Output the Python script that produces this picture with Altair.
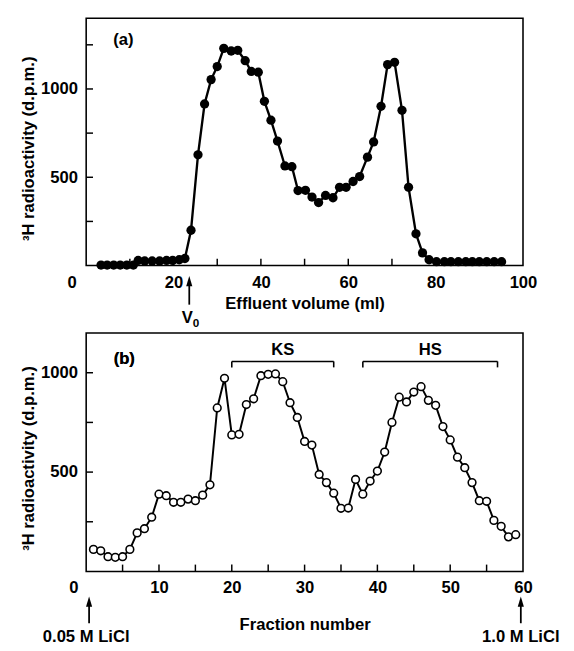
import altair as alt
import pandas as pd

# ---------------- Panel (a): gel filtration ----------------
vol_a = [3.4, 4.8, 6.3, 7.8, 9.3, 10.8, 11.9, 13.4, 15.1, 16.8,
         18.4, 19.8, 21.3, 22.6, 24.0, 25.6, 27.1, 28.6, 30.0, 31.5,
         33.2, 34.7, 36.4, 37.8, 39.4, 40.8, 42.3, 43.8, 45.5, 47.1,
         48.5, 50.2, 51.7, 53.2, 54.8, 56.5, 58.0, 59.5, 61.1, 62.6,
         64.4, 65.8, 67.5, 69.0, 70.6, 72.3, 73.8, 75.5, 77.0, 78.5,
         80.2, 82.0, 83.5, 85.2, 86.9, 88.4, 90.0, 91.7, 93.4, 95.1]
dpm_a = [3, 3, 3, 3, 3, 3, 29, 26, 26, 26,
         29, 29, 33, 40, 200, 627, 915, 1053, 1127, 1230,
         1215, 1219, 1160, 1099, 1095, 930, 823, 705, 564, 560,
         425, 426, 388, 357, 397, 384, 443, 443, 476, 504,
         614, 700, 902, 1138, 1151, 879, 443, 180, 72, 33,
         22, 22, 22, 22, 22, 22, 22, 22, 22, 22]

xlabels_a = [0, 20, 40, 60, 80, 100]
xticks_a = [10, 20, 30, 40, 50, 60, 70, 80, 90]
ylabels_a = [500, 1000]
yticks_a = [250, 500, 750, 1000, 1250]
v0_volume = [23.6]

# ---------------- Panel (b): ion exchange ----------------
frac_b = list(range(1, 60))
dpm_b = [111, 104, 74, 71, 74, 111, 194, 215, 273, 389,
         381, 348, 348, 364, 356, 384, 436, 823, 972, 687,
         690, 840, 869, 985, 992, 994, 955, 849, 775, 654,
         636, 488, 447, 394, 318, 319, 463, 389, 455, 505,
         601, 750, 877, 853, 903, 930, 861, 836, 729, 662,
         575, 522, 447, 356, 353, 257, 227, 174, 185]

xlabels_b = [0, 10, 20, 30, 40, 50, 60]
xticks_b = [5, 10, 15, 20, 25, 30, 35, 40, 45, 50, 55]
ylabels_b = [500, 1000]
yticks_b = [250, 500, 750, 1000]

brackets = ["KS", "HS"]
bracket_start = [20, 38]
bracket_end = [34, 56.5]
bracket_level = [1057, 1057]
bracket_foot = [1027, 1027]
bracket_label_y = [1114, 1114]

salt_labels = ["0.05 M LiCl", "1.0 M LiCl"]
salt_fraction = [0.4, 59.7]
salt_text_shift = [-3, 0]

# ---------------- styling ----------------
FONT = "Liberation Sans"
FS = 17
W = 447
HA = 253
HB = 244
TICK = 7

df_a = pd.DataFrame({"vol": vol_a, "dpm": dpm_a})
df_b = pd.DataFrame({"frac": frac_b, "dpm": dpm_b})


def xaxis(values, title, title_pad, zero_shift):
    return alt.Axis(values=values, title=title, grid=False, ticks=False, tickSize=0,
                    domain=False, format="d", labelFont=FONT, labelFontSize=FS,
                    labelFontWeight="bold", labelColor="black", labelPadding=9,
                    labelFlush=False,
                    labelOffset={"condition": {"test": "datum.value === 0", "value": zero_shift},
                                 "value": 0},
                    titleFont=FONT, titleFontSize=FS, titleFontWeight="bold",
                    titleColor="black", titlePadding=title_pad)


def yaxis(values, title_y):
    return alt.Axis(values=values, title="³H radioactivity (d.p.m.)", grid=False,
                    ticks=False, tickSize=0, domain=False, format="d", labelFont=FONT,
                    labelFontSize=FS, labelFontWeight="bold", labelColor="black",
                    labelPadding=9, titleFont=FONT, titleFontSize=FS,
                    titleFontWeight="bold", titleColor="black", titlePadding=3,
                    titleY=title_y)


# ----- panel (a)
xs_a = alt.Scale(domain=[0, 100], nice=False, zero=False)
ys_a = alt.Scale(domain=[0, 1400], nice=False)

base_a = alt.Chart(df_a)
line_a = base_a.mark_line(color="black", strokeWidth=2.4).encode(
    x=alt.X("vol:Q", scale=xs_a, axis=xaxis(xlabels_a, "Effluent volume (ml)", 6, -15)),
    y=alt.Y("dpm:Q", scale=ys_a, axis=yaxis(ylabels_a, 133)),
)
pts_a = base_a.mark_circle(color="black", size=90, opacity=1).encode(
    x=alt.X("vol:Q", scale=xs_a), y=alt.Y("dpm:Q", scale=ys_a)
)
ytk_a = alt.Chart(pd.DataFrame({"v": yticks_a})).mark_rule(color="black", strokeWidth=1.5).encode(
    y=alt.Y("v:Q", scale=ys_a), x=alt.value(0), x2=alt.value(TICK)
)
xtk_a = alt.Chart(pd.DataFrame({"v": xticks_a})).mark_rule(color="black", strokeWidth=1.5).encode(
    x=alt.X("v:Q", scale=xs_a), y=alt.value(HA), y2=alt.value(HA - TICK)
)
v0_df = pd.DataFrame({"x": v0_volume})
v0_shaft = alt.Chart(v0_df).mark_rule(color="black", strokeWidth=1.8).encode(
    x=alt.X("x:Q", scale=xs_a), y=alt.value(HA + 16), y2=alt.value(HA + 40)
)
v0_head = alt.Chart(v0_df).mark_point(shape="M0,-1L0.6,1L-0.6,1Z", filled=True, color="black",
                                      opacity=1, size=110).encode(
    x=alt.X("x:Q", scale=xs_a), y=alt.value(HA + 16)
)
v0_text = alt.Chart(v0_df).mark_text(font=FONT, fontSize=FS, fontWeight="bold", color="black",
                                     align="center", baseline="middle", dx=-2).encode(
    x=alt.X("x:Q", scale=xs_a), y=alt.value(HA + 54), text=alt.value("V")
)
v0_sub = alt.Chart(v0_df).mark_text(font=FONT, fontSize=12, fontWeight="bold", color="black",
                                    align="center", baseline="middle", dx=7).encode(
    x=alt.X("x:Q", scale=xs_a), y=alt.value(HA + 59), text=alt.value("0")
)
lab_a = alt.Chart(v0_df).mark_text(font=FONT, fontSize=FS, fontWeight="bold", color="black",
                                   align="center", baseline="middle").encode(
    x=alt.value(38), y=alt.value(22), text=alt.value("(a)")
)

panel_a = alt.layer(line_a, pts_a, ytk_a, xtk_a, v0_shaft, v0_head, v0_text, v0_sub, lab_a).properties(
    width=W, height=HA
)

# ----- panel (b)
xs_b = alt.Scale(domain=[0, 60], nice=False, zero=False)
ys_b = alt.Scale(domain=[0, 1200], nice=False)

base_b = alt.Chart(df_b)
line_b = base_b.mark_line(color="black", strokeWidth=2).encode(
    x=alt.X("frac:Q", scale=xs_b, axis=xaxis(xlabels_b, "Fraction number", 21, -13)),
    y=alt.Y("dpm:Q", scale=ys_b, axis=yaxis(ylabels_b, 128)),
)
pts_b = base_b.mark_point(shape="circle", filled=True, fill="white", stroke="black",
                          strokeWidth=1.6, size=62, opacity=1).encode(
    x=alt.X("frac:Q", scale=xs_b), y=alt.Y("dpm:Q", scale=ys_b)
)
ytk_b = alt.Chart(pd.DataFrame({"v": yticks_b})).mark_rule(color="black", strokeWidth=1.5).encode(
    y=alt.Y("v:Q", scale=ys_b), x=alt.value(0), x2=alt.value(TICK)
)
xtk_b = alt.Chart(pd.DataFrame({"v": xticks_b})).mark_rule(color="black", strokeWidth=1.5).encode(
    x=alt.X("v:Q", scale=xs_b), y=alt.value(HB), y2=alt.value(HB - TICK)
)
br_df = pd.DataFrame({"name": brackets, "x1": bracket_start, "x2": bracket_end,
                      "lev": bracket_level, "foot": bracket_foot, "ly": bracket_label_y})
br_df["xm"] = (br_df["x1"] + br_df["x2"]) / 2
br_h = alt.Chart(br_df).mark_rule(color="black", strokeWidth=1.6).encode(
    x=alt.X("x1:Q", scale=xs_b), x2="x2:Q", y=alt.Y("lev:Q", scale=ys_b)
)
br_l = alt.Chart(br_df).mark_rule(color="black", strokeWidth=1.6).encode(
    x=alt.X("x1:Q", scale=xs_b), y=alt.Y("lev:Q", scale=ys_b), y2="foot:Q"
)
br_r = alt.Chart(br_df).mark_rule(color="black", strokeWidth=1.6).encode(
    x=alt.X("x2:Q", scale=xs_b), y=alt.Y("lev:Q", scale=ys_b), y2="foot:Q"
)
br_t = alt.Chart(br_df).mark_text(font=FONT, fontSize=FS, fontWeight="bold", color="black",
                                  align="center", baseline="middle").encode(
    x=alt.X("xm:Q", scale=xs_b), y=alt.Y("ly:Q", scale=ys_b), text="name:N"
)
salt_df = pd.DataFrame({"lab": salt_labels, "x": salt_fraction})
salt_shaft = alt.Chart(salt_df).mark_rule(color="black", strokeWidth=1.8).encode(
    x=alt.X("x:Q", scale=xs_b), y=alt.value(HB + 31), y2=alt.value(HB + 53)
)
salt_head = alt.Chart(salt_df).mark_point(shape="M0,-1L0.6,1L-0.6,1Z", filled=True, color="black",
                                          opacity=1, size=110).encode(
    x=alt.X("x:Q", scale=xs_b), y=alt.value(HB + 31)
)
salt_text_l = alt.Chart(salt_df.iloc[[0]]).mark_text(
    font=FONT, fontSize=FS, fontWeight="bold", color="black", align="center",
    baseline="middle", dx=salt_text_shift[0]).encode(
    x=alt.X("x:Q", scale=xs_b), y=alt.value(HB + 67), text="lab:N"
)
salt_text_r = alt.Chart(salt_df.iloc[[1]]).mark_text(
    font=FONT, fontSize=FS, fontWeight="bold", color="black", align="center",
    baseline="middle", dx=salt_text_shift[1]).encode(
    x=alt.X("x:Q", scale=xs_b), y=alt.value(HB + 67), text="lab:N"
)
lab_b = alt.Chart(salt_df).mark_text(font=FONT, fontSize=FS, fontWeight="bold", color="black",
                                     align="center", baseline="middle").encode(
    x=alt.value(39), y=alt.value(27), text=alt.value("(b)")
)

panel_b = alt.layer(line_b, pts_b, ytk_b, xtk_b, br_h, br_l, br_r, br_t,
                    salt_shaft, salt_head, salt_text_l, salt_text_r, lab_b).properties(
    width=W, height=HB)

chart = alt.vconcat(panel_a, panel_b, spacing=69, bounds="flush").properties(
    padding={"left": 11, "top": 2, "right": 5, "bottom": 5},
    background="white",
).configure_view(stroke="black", strokeWidth=1.6).configure_concat(spacing=69)

chart.save("out.html", embed_options={"renderer": "svg", "actions": False})
